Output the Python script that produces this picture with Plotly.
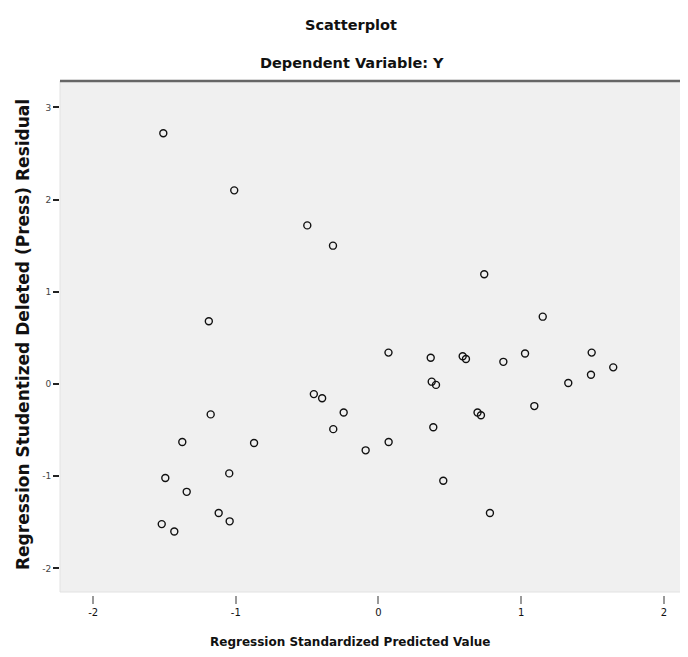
import plotly.graph_objects as go

# Regression Standardized Predicted Value (x) vs Studentized Deleted (Press) Residual (y)
pred_x = [-1.508, -1.011, -0.499, -0.319, 0.741, 1.151, -1.189, 0.070, 0.366, 0.590,
          0.613, 0.875, 1.027, 1.494, 1.645, 1.489, 1.330, 0.373, 0.403, 1.092,
          0.694, 0.718, -0.453, -0.395, -0.244, -0.317, -1.176, -1.375, -0.872, -0.090,
          0.071, 0.384, 0.454, -1.494, -1.046, -1.344, -1.120, -1.043, -1.519, -1.431,
          0.781]
resid_y = [2.72, 2.10, 1.72, 1.50, 1.19, 0.73, 0.68, 0.34, 0.285, 0.30,
           0.27, 0.24, 0.33, 0.34, 0.18, 0.10, 0.01, 0.025, -0.01, -0.24,
           -0.31, -0.34, -0.11, -0.155, -0.31, -0.49, -0.33, -0.63, -0.64, -0.72,
           -0.63, -0.47, -1.05, -1.02, -0.97, -1.17, -1.40, -1.49, -1.52, -1.60,
           -1.40]

x_ticks = [-2, -1, 0, 1, 2]
x_tick_labels = ["-2", "-1", "0", "1", "2"]
y_ticks = [3, 2, 1, 0, -1, -2]
y_tick_labels = ["3", "2", "1", "0", "-1", "-2"]

FONT = "DejaVu Sans"
OFF = 8  # the page body adds an 8px margin around the figure
W, H = 688 - OFF, 657 - OFF
PLOT_LEFT, PLOT_TOP, PLOT_BOTTOM = 60, 81, 595   # page coordinates
GAP = 3                                          # gap between grey area and x ticks
PLOT_W = 688 - PLOT_LEFT
PLOT_H = PLOT_BOTTOM - PLOT_TOP

fig = go.Figure()
fig.add_trace(go.Scatter(
    x=pred_x, y=resid_y, mode="markers",
    marker=dict(symbol="circle-open", size=7, color="#111111", line=dict(width=1.4, color="#111111")),
    showlegend=False, hoverinfo="skip",
))

# plot background (leaves a small gap above the x ticks, as in the SPSS output)
fig.add_shape(type="rect", xref="paper", yref="paper", x0=0, x1=1, y0=GAP / PLOT_H, y1=1,
              fillcolor="#f0f0f0", line=dict(width=1, color="#e2e2e2"), layer="below")
fig.add_shape(type="line", xref="paper", yref="paper", x0=0, x1=1, y0=1, y1=1,
              line=dict(width=2.5, color="#666666"))

def xpaper(px):
    return (px - PLOT_LEFT) / PLOT_W

def ypaper(py):
    return (PLOT_BOTTOM - py) / PLOT_H

fig.update_layout(
    width=W, height=H,
    margin=dict(l=PLOT_LEFT - OFF, r=0, t=PLOT_TOP - OFF, b=H - (PLOT_BOTTOM - OFF), autoexpand=False),
    paper_bgcolor="white", plot_bgcolor="white",
    font=dict(family=FONT, color="#111111"),
    annotations=[
        dict(text="<b>Scatterplot</b>", xref="paper", yref="paper", x=xpaper(351),
             y=ypaper(25), yanchor="middle", showarrow=False,
             font=dict(size=14.5, family=FONT, color="#111111")),
        dict(text="<b>Dependent Variable: Y</b>", xref="paper", yref="paper", x=xpaper(352),
             y=ypaper(63), yanchor="middle", showarrow=False,
             font=dict(size=14.5, family=FONT, color="#111111")),
        dict(text="<b>Regression Standardized Predicted Value</b>", xref="paper", yref="paper",
             x=xpaper(350), y=ypaper(642), yanchor="middle", showarrow=False,
             font=dict(size=12, family=FONT, color="#111111")),
        dict(text="<b>Regression Studentized Deleted (Press) Residual</b>", xref="paper",
             yref="paper", x=xpaper(23), y=ypaper(335), xanchor="center", yanchor="middle",
             textangle=-90, showarrow=False,
             font=dict(size=17, family=FONT, color="#111111")),
    ],
    xaxis=dict(
        range=[-2.232, 2.169], tickvals=x_ticks, ticktext=x_tick_labels, automargin=False,
        showgrid=False, zeroline=False, showline=False,
        ticks="outside", ticklen=8, tickwidth=1.5, tickcolor="#9a9a9a",
        tickfont=dict(size=10, color="#111111", family=FONT),
    ),
    yaxis=dict(
        range=[-2.289, 3.286], tickvals=y_ticks, ticktext=y_tick_labels, automargin=False,
        showgrid=False, zeroline=False, showline=False,
        ticks="outside", ticklen=6, tickwidth=2, tickcolor="#222222",
        tickfont=dict(size=9, color="#444444", family=FONT),
    ),
)

fig.write_html("out.html")
